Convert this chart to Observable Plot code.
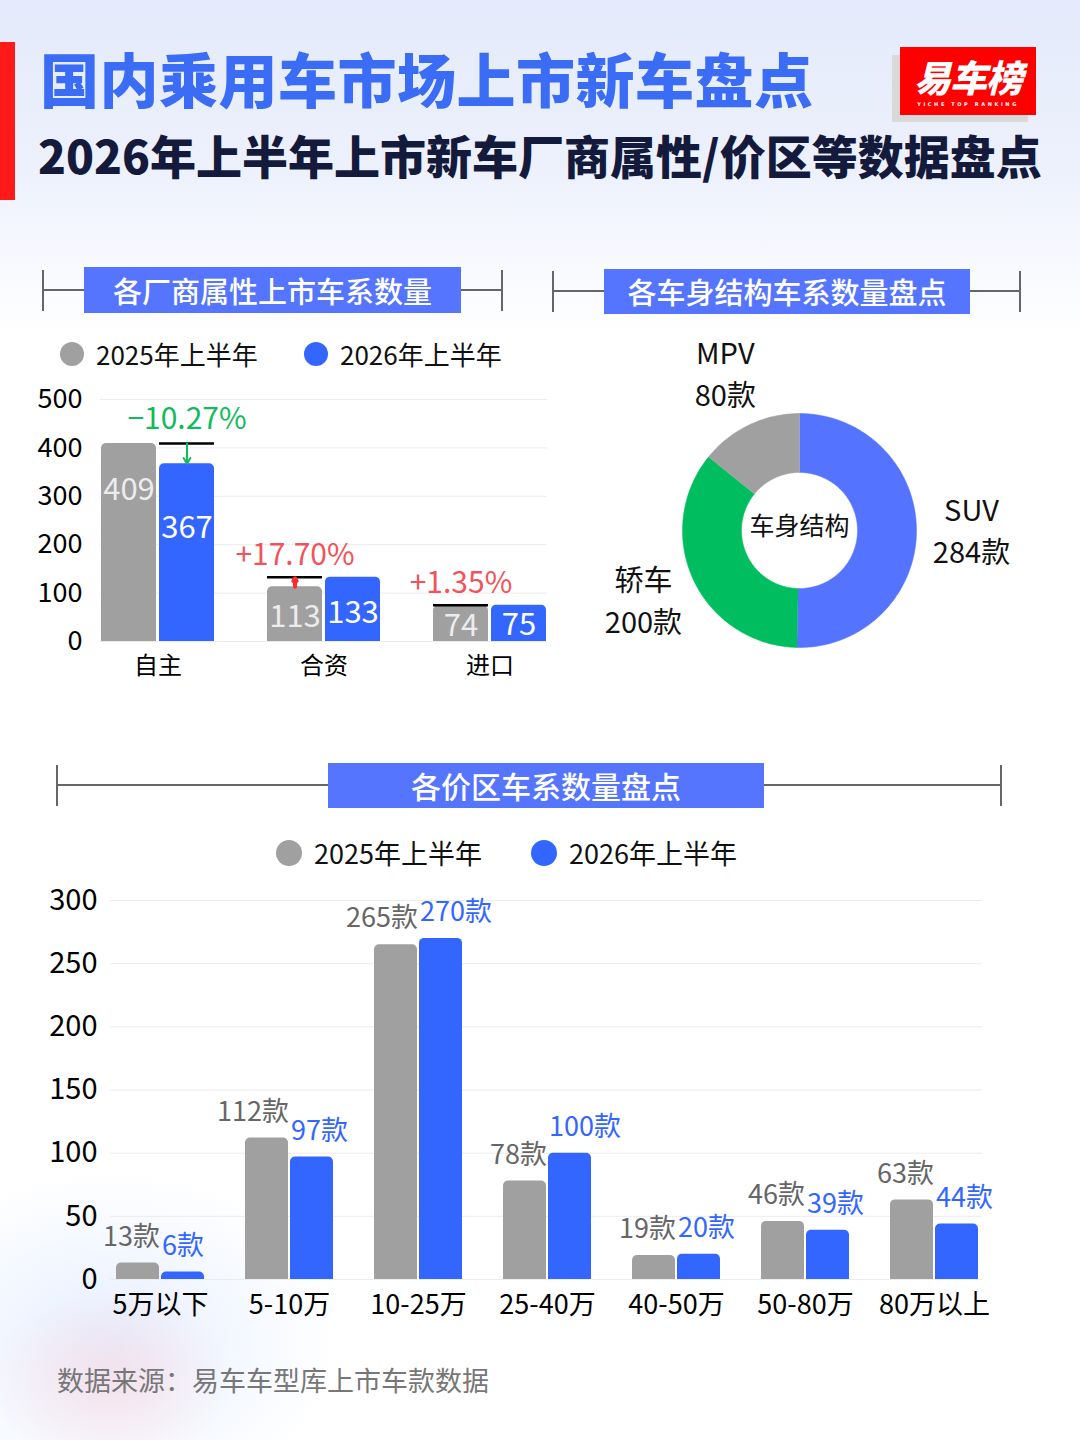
<!DOCTYPE html>
<html><head><meta charset="utf-8">
<script src="https://cdn.jsdelivr.net/npm/d3@7"></script>
<script src="https://cdn.jsdelivr.net/npm/@observablehq/plot@0.6"></script>
<style>
html,body{margin:0;padding:0;}
body{width:1080px;height:1440px;position:relative;overflow:hidden;
 font-family:"Noto Sans CJK SC","Noto Sans",sans-serif;
 background:linear-gradient(180deg,#e4eafb 0px,#edf1fc 170px,#f7f9fe 260px,#ffffff 340px);}
.abs{position:absolute;}
.deco{left:0;top:1150px;width:420px;height:290px;
 background:
  radial-gradient(ellipse 120px 90px at 110px 230px, rgba(255,205,212,0.45) 0%, rgba(255,205,212,0) 100%),
  radial-gradient(ellipse 230px 170px at 110px 190px, rgba(205,222,255,0.5) 0%, rgba(205,222,255,0) 100%);}
.title{left:40px;top:38px;font-size:59px;font-weight:900;color:#3b6cf6;line-height:80px;white-space:nowrap;letter-spacing:0.5px;}
.subtitle{left:38px;top:122px;font-size:46px;font-weight:900;color:#141a3c;line-height:64px;white-space:nowrap;}
.redbar{left:0;top:42px;width:15px;height:158px;background:#ff1a1a;}
.logoShadow{left:892px;top:55px;width:136px;height:67px;background:#d9d9d9;}
.logo{left:900px;top:47px;width:136px;height:68px;background:#ff0000;color:#fff;text-align:center;}
.logo .main{font-size:37px;font-weight:900;font-style:italic;line-height:37px;margin-top:11px;letter-spacing:-1px;}
.logo .sub{font-family:"DejaVu Sans",sans-serif;font-size:5px;letter-spacing:2.6px;font-weight:bold;margin-top:6px;white-space:nowrap;}
.hline{height:1.5px;background:#666;}
.vtick{width:1.5px;background:#666;}
.hbox{background:#5575ff;color:#fff;text-align:center;font-weight:500;white-space:nowrap;}
.leg{display:flex;align-items:center;white-space:nowrap;color:#111;}
.leg .dot{border-radius:50%;}
.source{left:57px;top:1362px;font-size:27px;color:#777;line-height:36px;white-space:nowrap;}
</style></head>
<body>
<div class="abs deco"></div>
<div class="abs redbar"></div>
<div class="abs title">国内乘用车市场上市新车盘点</div>
<div class="abs subtitle">2026年上半年上市新车厂商属性/价区等数据盘点</div>
<div class="abs logoShadow"></div>
<div class="abs logo"><div class="main">易车榜</div><div class="sub">YICHE TOP RANKING</div></div>
<div id="root"></div>
<div class="abs source">数据来源：易车车型库上市车款数据</div>
<script>
// ---------------- data ----------------
const years = ["2025", "2026"];
const legendLabels = ["2025年上半年", "2026年上半年"];

const makerCats = ["自主", "合资", "进口"];
const maker2025 = [409, 113, 74];
const maker2026 = [367, 133, 75];
const makerTicks = [0, 100, 200, 300, 400, 500];

const bodyTypes = ["SUV", "轿车", "MPV"];
const bodyCounts = [284, 200, 80];
const bodyCenterLabel = "车身结构";

const priceCats = ["5万以下", "5-10万", "10-25万", "25-40万", "40-50万", "50-80万", "80万以上"];
const price2025 = [13, 112, 265, 78, 19, 46, 63];
const price2026 = [6, 97, 270, 100, 20, 39, 44];
const priceTicks = [0, 50, 100, 150, 200, 250, 300];

// ---------------- style ----------------
const FONT = '"Noto Sans CJK SC","Noto Sans",sans-serif';
const GRAY = "#a0a0a0";
const BLUE = "#3366ff";
const GREEN = "#11bb5c";
const RED = "#f2525c";
const root = document.getElementById("root");

function place(el, left, top, w, h) {
  el.classList.add("abs");
  el.style.left = left + "px"; el.style.top = top + "px";
  if (w != null) el.style.width = w + "px";
  if (h != null) el.style.height = h + "px";
  root.appendChild(el);
  return el;
}
function div(cls, html) { const d = document.createElement("div"); if (cls) d.className = cls; if (html != null) d.innerHTML = html; return d; }

function header(x0, x1, lineY, tickTop, tickBottom, bx0, bx1, by0, by1, text, fs) {
  place(div("hline"), x0, lineY - 0.75, x1 - x0, null);
  place(div("vtick"), x0 - 0.75, tickTop, null, tickBottom - tickTop);
  place(div("vtick"), x1 - 0.75, tickTop, null, tickBottom - tickTop);
  const b = place(div("hbox", text), bx0, by0, bx1 - bx0, by1 - by0);
  b.style.fontSize = fs + "px"; b.style.lineHeight = (by1 - by0) + "px";
}
header(43, 502, 290, 270, 311, 84, 461, 267, 313, "各厂商属性上市车系数量", 29);
header(553, 1020, 291, 271, 312, 604, 970, 269, 314, "各车身结构车系数量盘点", 29);
header(57, 1001, 785, 765, 806, 328, 764, 763, 808, "各价区车系数量盘点", 30);

function legendItem(left, centerY, r, color, label, fs, gap) {
  const it = div("leg");
  const dot = div("dot"); dot.style.width = dot.style.height = (2 * r) + "px"; dot.style.background = color;
  const t = div(null, label); t.style.fontSize = fs + "px"; t.style.marginLeft = gap + "px"; t.style.lineHeight = "1";
  it.appendChild(dot); it.appendChild(t);
  place(it, left - r, centerY - Math.max(r, fs * 0.6), null, null);
  it.style.height = (2 * Math.max(r, fs * 0.6)) + "px";
}
legendItem(72, 354, 12, GRAY, legendLabels[0], 26, 12);
legendItem(316, 354, 12, BLUE, legendLabels[1], 26, 12);
legendItem(289, 853, 13, GRAY, legendLabels[0], 27, 12);
legendItem(544, 853, 13, BLUE, legendLabels[1], 27, 12);

// grid layer (same frame as the bar chart, drawn underneath)
function gridLayer(w, h, m, domain, ticks) {
  return Plot.plot({
    width: w, height: h, marginLeft: m[3], marginRight: m[1], marginTop: m[0], marginBottom: m[2],
    style: {background: "transparent"},
    x: {axis: null}, y: {domain, axis: null},
    marks: [Plot.ruleY(ticks, {stroke: "#ececec", strokeWidth: 1})]
  });
}

// ---------------- chart 1: maker bars ----------------
const makerRows = makerCats.flatMap((c, i) => [
  {cat: c, year: years[0], value: maker2025[i]},
  {cat: c, year: years[1], value: maker2026[i]}
]);
const changes = makerCats.map((c, i) => {
  const a = maker2025[i], b = maker2026[i];
  const pct = (b - a) / a * 100;
  return {
    cat: c, from: a, to: b, high: Math.max(a, b),
    lowYear: b < a ? years[1] : years[0],
    up: b >= a,
    pct: (pct >= 0 ? "+" : "−") + Math.abs(pct).toFixed(2) + "%"
  };
});
// inside-bar label placement (depth below bar top)
const insideY = d => d.value > 300 ? d.value * (d.year === years[0] ? 0.765 : 0.64) : d.value * 0.44;

const m1 = [19, 13, 49, 100];
place(gridLayer(560, 310, m1, [0, 500], makerTicks), 0, 380, 560, 310);
const c1 = Plot.plot({
  width: 560, height: 310,
  marginLeft: m1[3], marginRight: m1[1], marginTop: m1[0], marginBottom: m1[2],
  style: {fontFamily: FONT, color: "#000", background: "transparent", overflow: "visible"},
  fx: {domain: makerCats, paddingInner: 0.31, paddingOuter: 0, label: null},
  x: {domain: years, paddingInner: 0.05, paddingOuter: 0, axis: null},
  y: {domain: [0, 500], label: null},
  color: {domain: years, range: [GRAY, BLUE]},
  marks: [
    Plot.axisY({ticks: makerTicks, tickSize: 0, tickPadding: 18, fontSize: 27, label: null}),
    Plot.axisFx({anchor: "bottom", tickSize: 0, tickPadding: 15, fontSize: 24, label: null}),
    Plot.barY(makerRows, {fx: "cat", x: "year", y: "value", fill: "year", ry1: 5}),
    Plot.text(makerRows, {filter: d => d.year === years[0], fx: "cat", x: "year", y: insideY, text: d => String(d.value), fill: "#ececec", fontSize: 31}),
    Plot.text(makerRows, {filter: d => d.year === years[1], fx: "cat", x: "year", y: insideY, text: d => String(d.value), fill: "#ffffff", fontSize: 31}),
    Plot.tickY(changes, {fx: "cat", x: "lowYear", y: "high", stroke: "#000", strokeWidth: 2.5}),
    Plot.arrow(changes, {filter: d => !d.up, fx: "cat", x: "lowYear", y1: "from", y2: "to", stroke: GREEN, strokeWidth: 2, headLength: 10}),
    Plot.arrow(changes, {filter: d => d.up, fx: "cat", x: "lowYear", y1: "from", y2: "to", stroke: "#ff2b2b", strokeWidth: 4, headLength: 14, insetEnd: 1}),
    Plot.text(changes, {filter: d => !d.up, fx: "cat", x: "lowYear", y: "high", dy: -24, text: "pct", fill: GREEN, fontSize: 30}),
    Plot.text(changes, {filter: d => d.up, fx: "cat", x: "lowYear", y: "high", dy: -22, text: "pct", fill: RED, fontSize: 30})
  ]
});
place(c1, 0, 380, 560, 310);

// ---------------- chart 2: donut ----------------
const R_OUT = 117, R_IN = 58, R_LABEL = 172;
const pie = d3.pie().sort(null).value(d => d.value)(bodyTypes.map((n, i) => ({name: n, value: bodyCounts[i]})));
const ringPts = pie.flatMap(s => {
  const n = Math.max(2, Math.ceil((s.endAngle - s.startAngle) / (Math.PI / 180)));
  const outer = d3.range(n + 1).map(k => s.startAngle + (s.endAngle - s.startAngle) * k / n);
  const pts = [];
  outer.forEach(a => pts.push({name: s.data.name, x: R_OUT * Math.sin(a), y: R_OUT * Math.cos(a)}));
  outer.slice().reverse().forEach(a => pts.push({name: s.data.name, x: R_IN * Math.sin(a), y: R_IN * Math.cos(a)}));
  return pts;
});
const midX = s => R_LABEL * Math.sin((s.startAngle + s.endAngle) / 2);
const midY = s => R_LABEL * Math.cos((s.startAngle + s.endAngle) / 2);
const c2 = Plot.plot({
  width: 460, height: 340, margin: 0,
  style: {fontFamily: FONT, color: "#000", background: "transparent", overflow: "visible"},
  x: {domain: [-219, 241], axis: null},
  y: {domain: [-140, 200], axis: null},
  color: {domain: bodyTypes, range: ["#5473ff", "#00be60", GRAY]},
  marks: [
    Plot.line(ringPts, {x: "x", y: "y", z: "name", fill: "name", stroke: "name", strokeWidth: 0.5, curve: "linear"}),
    Plot.text(pie, {x: midX, y: midY, dy: -21, text: s => s.data.name, fontSize: 29, fill: "#111"}),
    Plot.text(pie, {x: midX, y: midY, dy: 21, text: s => `${s.data.value}款`, fontSize: 29, fill: "#111"}),
    Plot.text([bodyCenterLabel], {x: 0, y: 0, dy: -4, text: d => d, fontSize: 25, fill: "#111"})
  ]
});
place(c2, 580, 330, 460, 340);

// ---------------- chart 3: price bars ----------------
const priceRows = priceCats.flatMap((c, i) => [
  {cat: c, year: years[0], value: price2025[i]},
  {cat: c, year: years[1], value: price2026[i]}
]);
const m3 = [20, 19, 51, 113];
place(gridLayer(1000, 450, [20, 18, 51, 110], [0, 300], priceTicks), 0, 880, 1000, 450);
const c3 = Plot.plot({
  width: 1000, height: 450,
  marginLeft: m3[3], marginRight: m3[1], marginTop: m3[0], marginBottom: m3[2],
  style: {fontFamily: FONT, color: "#000", background: "transparent", overflow: "visible"},
  fx: {domain: priceCats, paddingInner: 0.32, paddingOuter: 0, label: null},
  x: {domain: years, paddingInner: 0.05, paddingOuter: 0, axis: null},
  y: {domain: [0, 300], label: null},
  color: {domain: years, range: [GRAY, BLUE]},
  marks: [
    Plot.axisY({ticks: priceTicks, tickSize: 0, tickPadding: 19, fontSize: 29, label: null}),
    Plot.axisFx({anchor: "bottom", tickSize: 0, tickPadding: 15, fontSize: 27, label: null}),
    Plot.barY(priceRows, {fx: "cat", x: "year", y: "value", fill: "year", ry1: 5}),
    Plot.text(priceRows, {filter: d => d.year === years[0], fx: "cat", x: "year", y: "value", dy: -26, dx: 22, textAnchor: "end", text: d => d.value + "款", fill: "#666", fontSize: 27}),
    Plot.text(priceRows, {filter: d => d.year === years[1], fx: "cat", x: "year", y: "value", dy: -26, dx: -21, textAnchor: "start", text: d => d.value + "款", fill: BLUE, fontSize: 27})
  ]
});
place(c3, 0, 880, 1000, 450);
</script>
</body></html>
